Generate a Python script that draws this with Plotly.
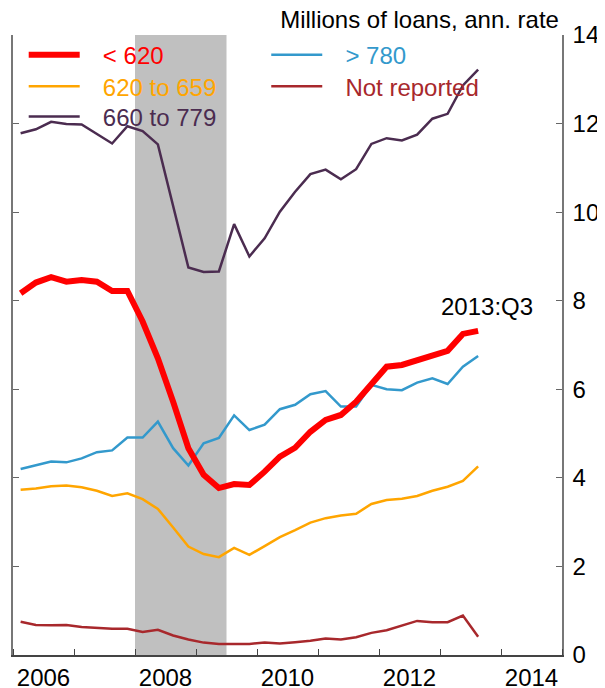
import plotly.graph_objects as go

# ---- data ----
quarters = [f"{y}Q{q}" for y in range(2006, 2014) for q in range(1, 5)][:31]  # 2006Q1..2013Q3

lt620 = [8.17, 8.41, 8.53, 8.43, 8.47, 8.43, 8.22, 8.22, 7.53, 6.70, 5.72, 4.67, 4.07, 3.77, 3.86, 3.84,
         4.14, 4.48, 4.68, 5.04, 5.31, 5.42, 5.72, 6.13, 6.51, 6.55, 6.66, 6.79, 6.87, 7.25, 7.32]
r620_659 = [3.73, 3.76, 3.81, 3.83, 3.79, 3.71, 3.59, 3.65, 3.52, 3.30, 2.88, 2.45, 2.28, 2.21, 2.42, 2.26,
            2.46, 2.66, 2.82, 2.99, 3.09, 3.15, 3.19, 3.41, 3.50, 3.53, 3.59, 3.71, 3.80, 3.93, 4.26]
r660_779 = [11.78, 11.87, 12.04, 11.99, 11.98, 11.76, 11.55, 11.94, 11.83, 11.53, 10.12, 8.75, 8.65, 8.66, 9.73, 9.00,
            9.41, 10.01, 10.46, 10.86, 10.96, 10.74, 10.97, 11.54, 11.67, 11.62, 11.75, 12.11, 12.22, 12.86, 13.22]
gt780 = [4.20, 4.28, 4.37, 4.35, 4.44, 4.58, 4.62, 4.91, 4.91, 5.27, 4.67, 4.28, 4.78, 4.90, 5.41, 5.08,
         5.20, 5.55, 5.65, 5.89, 5.96, 5.61, 5.61, 6.10, 6.00, 5.98, 6.15, 6.25, 6.12, 6.51, 6.75]
not_reported = [0.75, 0.68, 0.67, 0.68, 0.63, 0.61, 0.59, 0.59, 0.52, 0.57, 0.44, 0.35, 0.28, 0.25, 0.25, 0.25,
                0.28, 0.26, 0.29, 0.32, 0.37, 0.35, 0.40, 0.50, 0.56, 0.66, 0.77, 0.74, 0.74, 0.89, 0.41]

recession = (2008.0, 2009.5)
year_labels = ["2006", "2008", "2010", "2012", "2014"]
y_ticks = [0, 2, 4, 6, 8, 10, 12, 14]

# quarter -> mid-quarter decimal year
x = [int(s[:4]) + (int(s[-1]) - 0.5) / 4 for s in quarters]

FONT = "Liberation Sans, Arial, sans-serif"
C_RED = "#FF0000"
C_ORANGE = "#FFA500"
C_PURPLE = "#4B2C50"
C_BLUE = "#3399CC"
C_DRED = "#A8282C"

PAD = "&nbsp;&nbsp;&#8201;"

def nm(txt, c):
    return f'{PAD}<span style="color:{c}">{txt}</span>'

fig = go.Figure()
fig.add_trace(go.Scatter(x=x, y=r620_659, mode="lines", line=dict(color=C_ORANGE, width=2.5),
                         name=nm("620 to 659", C_ORANGE), legend="legend2"))
fig.add_trace(go.Scatter(x=x, y=r660_779, mode="lines", line=dict(color=C_PURPLE, width=2.5),
                         name=nm("660 to 779", C_PURPLE), legend="legend3"))
fig.add_trace(go.Scatter(x=x, y=gt780, mode="lines", line=dict(color=C_BLUE, width=2.5),
                         name=nm("&gt; 780", C_BLUE), legend="legend4"))
fig.add_trace(go.Scatter(x=x, y=not_reported, mode="lines", line=dict(color=C_DRED, width=2.5),
                         name=nm("Not reported", C_DRED), legend="legend5"))
fig.add_trace(go.Scatter(x=x, y=lt620, mode="lines", line=dict(color=C_RED, width=6),
                         name=nm("&lt; 620", C_RED), legend="legend"))

fig.add_shape(type="rect", xref="x", yref="y", x0=recession[0], x1=recession[1], y0=0, y1=14,
              fillcolor="#C0C0C0", line=dict(width=0), layer="below")

fig.add_annotation(x=x[-1], y=7.86, text="2013:Q3", showarrow=False, xanchor="center", yanchor="middle",
                   xshift=9, font=dict(size=24, color="black", family=FONT))

leg_common = dict(font=dict(size=24, family=FONT), bgcolor="rgba(0,0,0,0)", borderwidth=0,
                  itemwidth=51, tracegroupgap=0, orientation="v",
                  xanchor="left", yanchor="middle")
col1, col2 = 0.0195, 0.4613
row1, row2, row3 = 0.9677, 0.9166, 0.8680

# page body has an 8px margin: shrink the figure by 8px so the plot lands where intended
fig.update_layout(
    width=597, height=680,
    margin=dict(l=5, r=43, t=27, b=33, autoexpand=False),
    plot_bgcolor="white", paper_bgcolor="white",
    font=dict(family=FONT, size=24, color="black"),
    showlegend=True,
    legend=dict(x=col1, y=row1, **leg_common),
    legend2=dict(x=col1, y=row2, **leg_common),
    legend3=dict(x=col1, y=row3, **leg_common),
    legend4=dict(x=col2, y=row1, **leg_common),
    legend5=dict(x=col2, y=row2, **leg_common),
    title=dict(text="Millions of loans, ann. rate", x=0.9945, xref="paper", xanchor="right",
               y=0.983, yref="container", yanchor="middle", automargin=False,
               font=dict(size=24, family=FONT, color="black")),
    xaxis=dict(range=[2006, 2015], tickmode="array", automargin=False,
               tickvals=[int(v) + 0.5 for v in year_labels], ticktext=year_labels,
               ticks="", showgrid=False, zeroline=False, showline=True, linecolor="#444", linewidth=1.5,
               ticklabelstandoff=0,
               minor=dict(tickmode="linear", tick0=2006, dtick=1, ticks="inside", ticklen=6,
                          tickcolor="#444", tickwidth=1.2, showgrid=False)),
    yaxis=dict(range=[0, 14], tickmode="array", tickvals=y_ticks, side="right", mirror="ticks",
               automargin=False,
               ticks="inside", ticklen=6, tickcolor="#666", tickwidth=1.2,
               showline=True, linecolor="#777", linewidth=1.5, showgrid=False, zeroline=False,
               ticklabelstandoff=4),
)

fig.write_html("out.html")
